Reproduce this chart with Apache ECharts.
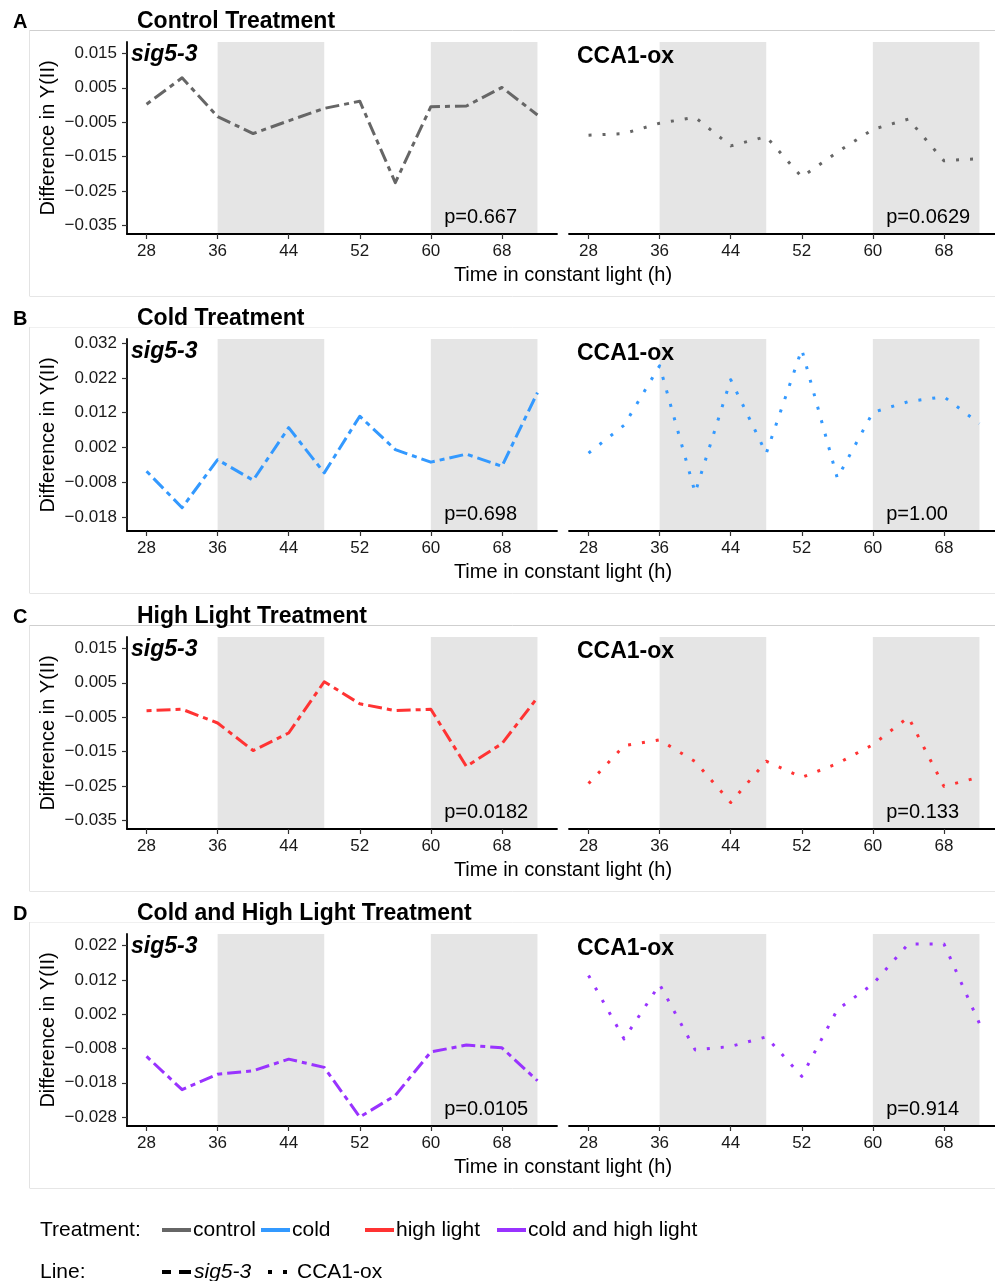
<!DOCTYPE html>
<html>
<head>
<meta charset="utf-8">
<script src="https://cdn.jsdelivr.net/npm/echarts@6/dist/echarts.min.js"></script>
<style>
  html, body { margin: 0; padding: 0; background: #ffffff; }
  #chart { width: 995px; height: 1281px; }
</style>
</head>
<body>
<div id="chart"></div>
<script>
// ---- data ---------------------------------------------------------------
const hours = [28, 32, 36, 40, 44, 48, 52, 56, 60, 64, 68, 72];
const xTicks = [28, 36, 44, 52, 60, 68];
const darkPeriods = [[36, 48], [60, 72]];

const panelLetters = ['A', 'B', 'C', 'D'];
const panelTitles = ['Control Treatment', 'Cold Treatment', 'High Light Treatment', 'Cold and High Light Treatment'];
const lineNames = ['sig5-3', 'CCA1-ox'];

// difference in Y(II), sig5-3
const sigControl = [0.0002, 0.0079, -0.0034, -0.0083, -0.0046, -0.0010, 0.0011, -0.0226, -0.0005, -0.0003, 0.0051, -0.0029];
const sigCold = [-0.0048, -0.0153, -0.0015, -0.0074, 0.0077, -0.0053, 0.0110, 0.0014, -0.0022, 0.0001, -0.0034, 0.0178];
const sigHighLight = [-0.0031, -0.0027, -0.0067, -0.0147, -0.0096, 0.0053, -0.0011, -0.0031, -0.0027, -0.0193, -0.0127, 0.0007];
const sigColdHighLight = [-0.0103, -0.0200, -0.0155, -0.0145, -0.0111, -0.0135, -0.0280, -0.0217, -0.0090, -0.0070, -0.0078, -0.0174];

// difference in Y(II), CCA1-ox
const ccaControl = [-0.0088, -0.0083, -0.0053, -0.0036, -0.0119, -0.0092, -0.0209, -0.0137, -0.0071, -0.0041, -0.0162, -0.0156];
const ccaCold = [0.0004, 0.0084, 0.0255, -0.0110, 0.0215, 0.0003, 0.0302, -0.0068, 0.0121, 0.0152, 0.0166, 0.0089];
const ccaHighLight = [-0.0243, -0.0133, -0.0116, -0.0179, -0.0298, -0.0178, -0.0225, -0.0185, -0.0130, -0.0050, -0.0251, -0.0224];
const ccaColdHighLight = [0.0133, -0.0052, 0.0107, -0.0084, -0.0074, -0.0046, -0.0161, 0.0033, 0.0108, 0.0225, 0.0225, -0.0007];

const pSig = ['p=0.667', 'p=0.698', 'p=0.0182', 'p=0.0105'];
const pCca = ['p=0.0629', 'p=1.00', 'p=0.133', 'p=0.914'];

const yTicksControl = [-0.035, -0.025, -0.015, -0.005, 0.005, 0.015];
const yTicksCold = [-0.018, -0.008, 0.002, 0.012, 0.022, 0.032];
const yTicksHighLight = [-0.035, -0.025, -0.015, -0.005, 0.005, 0.015];
const yTicksColdHighLight = [-0.028, -0.018, -0.008, 0.002, 0.012, 0.022];

const yRangeControl = [-0.0375, 0.0183];
const yRangeCold = [-0.0220, 0.0332];
const yRangeHighLight = [-0.0375, 0.0183];
const yRangeColdHighLight = [-0.0306, 0.0254];

const treatmentNames = ['control', 'cold', 'high light', 'cold and high light'];
const treatmentColors = ['#666666', '#3399ff', '#ff3333', '#9933ff'];

// ---- layout -------------------------------------------------------------
const FONT = "'Liberation Sans', Arial, Helvetica, sans-serif";
const PLOT_TOPS = [42, 339, 637, 934];
const PLOT_H = 192;
const PLOT_W = 430;
const PLOT_LEFTS = [127, 569];
const X_MIN = 25.8, X_MAX = 74.2;
const PX_PER_HOUR = PLOT_W / (X_MAX - X_MIN);
// the right-hand plot runs off the page edge; keep the same hour scale
const RIGHT_W = 995 - PLOT_LEFTS[1];
const X_MAX_RIGHT = X_MIN + RIGHT_W / PX_PER_HOUR;
const P_LABEL_X = 61.5; // p-value annotations start at this hour
const DASH_SIG = [5, 5, 14, 5];
const DASH_CCA = [3, 11];

const sigSets = [sigControl, sigCold, sigHighLight, sigColdHighLight];
const ccaSets = [ccaControl, ccaCold, ccaHighLight, ccaColdHighLight];
const yTickSets = [yTicksControl, yTicksCold, yTicksHighLight, yTicksColdHighLight];
const yRanges = [yRangeControl, yRangeCold, yRangeHighLight, yRangeColdHighLight];

const fmtY = v => (v < 0 ? '\u2212' : '') + Math.abs(v).toFixed(3);

const grids = [], xAxes = [], yAxes = [], series = [], graphics = [];

for (let p = 0; p < 4; p++) {
  for (let s = 0; s < 2; s++) {
    const g = p * 2 + s;
    grids.push({ left: PLOT_LEFTS[s], top: PLOT_TOPS[p], width: s === 0 ? PLOT_W : RIGHT_W, height: PLOT_H, containLabel: false });
    xAxes.push({
      gridIndex: g, type: 'value', min: X_MIN, max: s === 0 ? X_MAX : X_MAX_RIGHT, z: 10,
      axisLine: { show: true, onZero: false, lineStyle: { color: '#000', width: 1.8 } },
      axisTick: { show: true, customValues: xTicks, length: 5, lineStyle: { color: '#333', width: 1.2 } },
      axisLabel: { customValues: xTicks, fontSize: 17, color: '#1a1a1a', margin: 9, fontFamily: FONT },
      splitLine: { show: false }
    });
    yAxes.push({
      gridIndex: g, type: 'value', min: yRanges[p][0], max: yRanges[p][1], show: s === 0, z: 10,
      axisLine: { show: true, onZero: false, lineStyle: { color: '#000', width: 1.8 } },
      axisTick: { show: true, customValues: yTickSets[p], length: 5, lineStyle: { color: '#333', width: 1.2 } },
      axisLabel: { customValues: yTickSets[p], formatter: fmtY, fontSize: 17, color: '#1a1a1a', margin: 10, fontFamily: FONT },
      splitLine: { show: false }
    });
    // shading of the subjective night
    series.push({
      type: 'line', xAxisIndex: g, yAxisIndex: g, data: [], silent: true, z: 1,
      markArea: {
        silent: true,
        itemStyle: { color: '#e5e5e5' },
        label: { show: false },
        data: darkPeriods.map(([a, b]) => [{ xAxis: a }, { xAxis: b }])
      }
    });
    const vals = s === 0 ? sigSets[p] : ccaSets[p];
    series.push({
      type: 'line', name: lineNames[s] + ' ' + treatmentNames[p],
      xAxisIndex: g, yAxisIndex: g,
      data: hours.map((h, i) => [h, vals[i]]),
      showSymbol: false, symbol: 'none', z: 5,
      lineStyle: { color: treatmentColors[p], width: 3, type: s === 0 ? DASH_SIG : DASH_CCA, cap: 'butt', join: 'round' }
    });
  }

  const top = PLOT_TOPS[p];
  const boxTop = top - 12;
  const boxBottom = boxTop + 266;
  // panel frame
  graphics.push({ type: 'line', shape: { x1: 29.5, y1: boxTop + 0.5, x2: 995, y2: boxTop + 0.5 }, style: { stroke: p % 2 === 0 ? '#cfcfcf' : '#f0f0f0', lineWidth: 1 } });
  graphics.push({ type: 'line', shape: { x1: 29.5, y1: boxTop, x2: 29.5, y2: boxBottom }, style: { stroke: '#e3e3e3', lineWidth: 1 } });
  graphics.push({ type: 'line', shape: { x1: 29.5, y1: boxBottom + 0.5, x2: 995, y2: boxBottom + 0.5 }, style: { stroke: '#e6e6e6', lineWidth: 1 } });
  // panel letter and title
  graphics.push({ type: 'text', x: 13, y: boxTop - 8, style: { text: panelLetters[p], fontFamily: FONT, fontSize: 20, fontWeight: 'bold', fill: '#000', align: 'left', verticalAlign: 'middle' } });
  graphics.push({ type: 'text', x: 137, y: boxTop - 8, style: { text: panelTitles[p], fontFamily: FONT, fontSize: 23, fontWeight: 'bold', fill: '#000', align: 'left', verticalAlign: 'middle' } });
  // y axis title
  graphics.push({ type: 'text', x: 48, y: top + PLOT_H / 2, rotation: Math.PI / 2, style: { text: 'Difference in Y(II)', fontFamily: FONT, fontSize: 20, fill: '#000', align: 'center', verticalAlign: 'middle' } });
  // line labels inside each plot
  graphics.push({ type: 'text', x: 131, y: top + 13, z: 10, style: { text: lineNames[0], fontFamily: FONT, fontSize: 23, fontWeight: 'bold', fontStyle: 'italic', fill: '#000', align: 'left', verticalAlign: 'middle' } });
  graphics.push({ type: 'text', x: 577, y: top + 15, z: 10, style: { text: lineNames[1], fontFamily: FONT, fontSize: 23, fontWeight: 'bold', fill: '#000', align: 'left', verticalAlign: 'middle' } });
  // p-values
  const pOffset = (P_LABEL_X - X_MIN) * PX_PER_HOUR;
  graphics.push({ type: 'text', x: PLOT_LEFTS[0] + pOffset, y: top + PLOT_H - 17, z: 10, style: { text: pSig[p], fontFamily: FONT, fontSize: 20, fill: '#000', align: 'left', verticalAlign: 'middle' } });
  graphics.push({ type: 'text', x: PLOT_LEFTS[1] + pOffset, y: top + PLOT_H - 17, z: 10, style: { text: pCca[p], fontFamily: FONT, fontSize: 20, fill: '#000', align: 'left', verticalAlign: 'middle' } });
  // x axis title
  graphics.push({ type: 'text', x: 563, y: top + PLOT_H + 41, style: { text: 'Time in constant light (h)', fontFamily: FONT, fontSize: 20, fill: '#000', align: 'center', verticalAlign: 'middle' } });
}

// ---- legend ---------------------------------------------------------------
const LEG_Y1 = 1230, LEG_Y2 = 1272;
const legTextStyle = { fontFamily: FONT, fontSize: 21, fill: '#000', verticalAlign: 'middle', align: 'left' };
graphics.push({ type: 'text', x: 40, y: LEG_Y1, style: Object.assign({ text: 'Treatment:' }, legTextStyle) });
const legKeyX = [162, 261, 365, 497];
treatmentNames.forEach((name, i) => {
  graphics.push({ type: 'line', shape: { x1: legKeyX[i], y1: LEG_Y1, x2: legKeyX[i] + 29, y2: LEG_Y1 }, style: { stroke: treatmentColors[i], lineWidth: 4 } });
  graphics.push({ type: 'text', x: legKeyX[i] + 31, y: LEG_Y1, style: Object.assign({ text: name }, legTextStyle) });
});
graphics.push({ type: 'text', x: 40, y: LEG_Y2, style: Object.assign({ text: 'Line:' }, legTextStyle) });
graphics.push({ type: 'line', shape: { x1: 162, y1: LEG_Y2, x2: 171, y2: LEG_Y2 }, style: { stroke: '#000', lineWidth: 4 } });
graphics.push({ type: 'line', shape: { x1: 179, y1: LEG_Y2, x2: 191, y2: LEG_Y2 }, style: { stroke: '#000', lineWidth: 4 } });
graphics.push({ type: 'text', x: 194, y: LEG_Y2, style: Object.assign({ text: lineNames[0], fontStyle: 'italic' }, legTextStyle) });
graphics.push({ type: 'rect', shape: { x: 268, y: LEG_Y2 - 2, width: 4, height: 4 }, style: { fill: '#000' } });
graphics.push({ type: 'rect', shape: { x: 283, y: LEG_Y2 - 2, width: 4, height: 4 }, style: { fill: '#000' } });
graphics.push({ type: 'text', x: 297, y: LEG_Y2, style: Object.assign({ text: lineNames[1] }, legTextStyle) });

const chart = echarts.init(document.getElementById('chart'), null, { renderer: 'canvas' });
chart.setOption({
  backgroundColor: '#ffffff',
  animation: false,
  textStyle: { fontFamily: FONT },
  grid: grids,
  xAxis: xAxes,
  yAxis: yAxes,
  series: series,
  graphic: { elements: graphics }
});
</script>
</body>
</html>
